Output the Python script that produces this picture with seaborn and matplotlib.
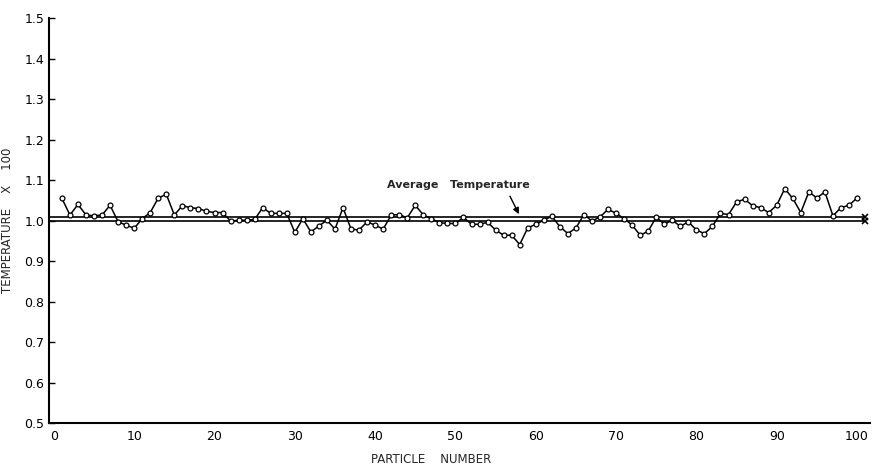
import numpy as np
import pandas as pd
import matplotlib
matplotlib.use("Agg")
import matplotlib.pyplot as plt
import seaborn as sns

# ================= DATOS =================
particle = list(range(1, 101))
temperature = [
    1.055, 1.014, 1.040, 1.014, 1.012, 1.014, 1.038, 0.997, 0.989, 0.981,
    1.005, 1.020, 1.056, 1.065, 1.014, 1.037, 1.032, 1.030, 1.023, 1.020,
    1.020, 0.999, 1.001, 1.001, 1.003, 1.032, 1.018, 1.018, 1.018, 0.971,
    1.005, 0.972, 0.987, 1.001, 0.979, 1.032, 0.979, 0.977, 0.997, 0.989,
    0.979, 1.014, 1.015, 1.007, 1.038, 1.014, 1.005, 0.995, 0.993, 0.993,
    1.008, 0.991, 0.991, 0.996, 0.977, 0.964, 0.964, 0.941, 0.982, 0.991,
    1.001, 1.011, 0.985, 0.968, 0.982, 1.015, 0.999, 1.009, 1.028, 1.018,
    1.005, 0.989, 0.964, 0.974, 1.009, 0.991, 1.001, 0.986, 0.997, 0.977,
    0.968, 0.986, 1.018, 1.015, 1.046, 1.053, 1.037, 1.032, 1.020, 1.038,
    1.079, 1.055, 1.020, 1.071, 1.056, 1.071, 1.012, 1.032, 1.038, 1.056,
]
reference_level = 1.000
average_level = 1.010

x_ticks = [0, 10, 20, 30, 40, 50, 60, 70, 80, 90, 100]
y_ticks = [0.5, 0.6, 0.7, 0.8, 0.9, 1.0, 1.1, 1.2, 1.3, 1.4, 1.5]

df = pd.DataFrame({'particle': particle, 'temperature': temperature})

# ================= GRAFICO =================
sns.set_style("ticks")
plt.rcParams['font.family'] = ['DejaVu Sans']

fig = plt.figure(figsize=(8.76, 4.66), dpi=100)
ax = fig.add_axes([0.056, 0.092, 0.937, 0.869])

x_left, x_right = -0.6, 101.6
x_end = 101.0

# lineas horizontales (referencia y promedio)
for level in [reference_level, average_level]:
    ax.plot([x_left, x_end], [level, level], color='black', linewidth=1.2, zorder=2)
    ax.plot([x_end], [level], marker='x', color='black', markersize=5,
            markeredgewidth=1.2, zorder=3)

sns.lineplot(data=df, x='particle', y='temperature', ax=ax,
             color='black', linewidth=1.1, marker='o', markersize=3.5,
             markerfacecolor='white', markeredgecolor='black',
             markeredgewidth=0.9, zorder=4)

ax.annotate('Average   Temperature', xy=(57.9, 1.016), xytext=(41.5, 1.087),
            fontsize=8, fontweight='bold', ha='left', va='center',
            arrowprops=dict(arrowstyle='-|>', color='black', lw=1.0,
                            shrinkA=2, shrinkB=0, mutation_scale=9,
                            relpos=(0.84, 0.0)))

ax.set_xlim(x_left, x_right)
ax.set_ylim(0.5, 1.5)
ax.set_xticks(x_ticks)
ax.set_yticks(y_ticks)
ax.set_yticklabels([f"{v:.1f}" for v in y_ticks])
ax.tick_params(axis='both', direction='in', length=4, width=1.0,
               labelsize=9, colors='black')
ax.tick_params(axis='x', length=0, pad=5)

sns.despine(ax=ax)
for side in ['left', 'bottom']:
    ax.spines[side].set_linewidth(1.5)
    ax.spines[side].set_color('black')

ax.set_xlabel('PARTICLE    NUMBER', fontsize=8.5)
ax.set_ylabel('TEMPERATURE    X    100', fontsize=8.5)
ax.xaxis.set_label_coords(0.465, -0.075)
ax.yaxis.set_label_coords(-0.043, 0.5)

plt.savefig('out.png', dpi=100)
